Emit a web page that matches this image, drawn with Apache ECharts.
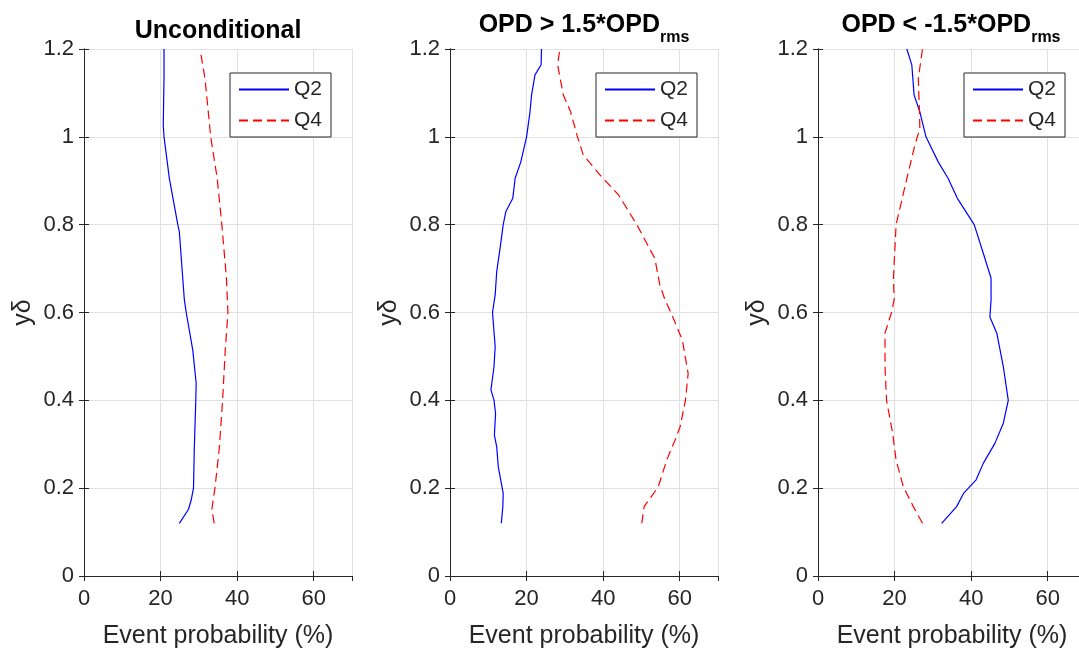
<!DOCTYPE html>
<html>
<head>
<meta charset="utf-8">
<script src="https://cdn.jsdelivr.net/npm/echarts@6/dist/echarts.min.js"></script>
<style>
  body { margin: 0; background: #fff; }
  #chart { width: 1079px; height: 651px; }
</style>
</head>
<body>
<div id="chart"></div>
<script>
// [x (%), y/delta] pairs, bottom to top
const uncondQ2 = [[24.9,0.12],[27.3,0.152],[28.0,0.173],[28.6,0.2],[28.8,0.287],[29.2,0.4],[29.3,0.439],[28.4,0.515],[26.7,0.6],[26.2,0.63],[24.9,0.784],[24.5,0.8],[22.3,0.905],[20.9,1.0],[20.7,1.027],[20.9,1.133],[20.9,1.2]];
const uncondQ4 = [[34.0,0.12],[33.4,0.152],[34.2,0.2],[35.3,0.287],[36.2,0.4],[36.9,0.515],[37.6,0.6],[37.2,0.678],[36.0,0.8],[34.8,0.905],[33.1,1.0],[31.6,1.133],[30.5,1.19]];
const posQ2 = [[13.4,0.12],[13.8,0.158],[13.9,0.188],[12.6,0.249],[12.2,0.294],[11.6,0.321],[11.9,0.37],[11.5,0.4],[10.7,0.424],[11.5,0.477],[11.8,0.522],[11.1,0.6],[11.8,0.64],[12.2,0.693],[13.2,0.754],[13.9,0.8],[14.6,0.83],[16.4,0.86],[17.0,0.905],[18.5,0.943],[20.0,1.0],[20.9,1.057],[21.3,1.095],[22.2,1.141],[23.8,1.164],[23.9,1.2]];
const posQ4 = [[50.1,0.12],[50.7,0.158],[54.4,0.203],[56.6,0.264],[58.8,0.31],[60.1,0.34],[61.5,0.4],[62.2,0.461],[60.7,0.537],[57.7,0.6],[56.2,0.628],[54.8,0.663],[53.5,0.723],[48.8,0.8],[44.0,0.868],[39.2,0.913],[34.8,0.959],[33.3,1.0],[31.5,1.057],[29.6,1.095],[28.1,1.164],[28.7,1.2]];
const negQ2 = [[32.3,0.12],[36.2,0.158],[38.0,0.188],[41.3,0.219],[43.2,0.257],[46.2,0.302],[48.4,0.348],[49.7,0.4],[48.4,0.477],[46.7,0.553],[44.9,0.59],[45.2,0.628],[45.2,0.678],[43.6,0.723],[40.8,0.8],[36.4,0.86],[34.0,0.905],[31.4,0.943],[28.2,1.0],[26.6,1.057],[25.1,1.095],[24.5,1.164],[23.2,1.2]];
const negQ4 = [[27.3,0.12],[24.9,0.158],[22.3,0.203],[20.4,0.264],[19.5,0.325],[17.9,0.4],[17.5,0.477],[17.5,0.553],[19.2,0.6],[19.9,0.63],[19.7,0.678],[20.4,0.8],[23.2,0.905],[25.3,0.981],[26.6,1.019],[26.5,1.057],[26.2,1.133],[27.3,1.2]];

const seriesNames = ["Q2", "Q4"];
const panelData = [[uncondQ2, uncondQ4], [posQ2, posQ4], [negQ2, negQ4]];
const panelLeft = [84, 450, 818];

const font = "Liberation Sans, Arial, Helvetica, sans-serif";
const ink = "#262626";

let grid = [], xAxis = [], yAxis = [], series = [], legend = [];

panelLeft.forEach((left, i) => {
  // fixed box; the third panel runs past the right edge like the original
  grid.push({ left: left, top: 49, width: 268, height: 527, outerBoundsMode: "none", containLabel: false });
  // bottom x axis
  xAxis.push({
    gridIndex: i, type: "value", min: 0, max: 70, interval: 20,
    name: "Event probability (%)", nameLocation: "middle", nameGap: 48,
    nameTextStyle: { fontFamily: font, fontSize: 25, color: ink },
    axisLine: { show: true, lineStyle: { color: ink, width: 1 } },
    axisTick: { show: true, inside: true, length: 5, lineStyle: { color: ink } },
    axisLabel: { fontFamily: font, fontSize: 22, color: ink, margin: 12, showMaxLabel: false },
    splitLine: { show: true, lineStyle: { color: "#e0e0e0", width: 1 } }
  });
  // top x axis (box edge)
  xAxis.push({
    gridIndex: i, type: "value", min: 0, max: 70, interval: 20, position: "top",
    axisLine: { show: true, lineStyle: { color: ink, width: 1 } },
    axisTick: { show: true, inside: true, length: 5, lineStyle: { color: ink } },
    axisLabel: { show: false }, splitLine: { show: false }
  });
  yAxis.push({
    gridIndex: i, type: "value", min: 0, max: 1.2, interval: 0.2,
    name: "y\u03b4", nameLocation: "middle", nameGap: 48,
    nameTextStyle: { fontFamily: font, fontSize: 25, color: ink },
    axisLine: { show: true, lineStyle: { color: ink, width: 1 } },
    axisTick: { show: true, inside: true, length: 5, lineStyle: { color: ink } },
    axisLabel: { fontFamily: font, fontSize: 22, color: ink, margin: 10 },
    splitLine: { show: true, lineStyle: { color: "#e0e0e0", width: 1 } }
  });
  yAxis.push({
    gridIndex: i, type: "value", min: 0, max: 1.2, interval: 0.2, position: "right",
    axisLine: { show: true, lineStyle: { color: ink, width: 1 } },
    axisTick: { show: true, inside: true, length: 5, lineStyle: { color: ink } },
    axisLabel: { show: false }, splitLine: { show: false }
  });
  series.push({
    name: seriesNames[0], type: "line", xAxisIndex: i * 2, yAxisIndex: i * 2,
    data: panelData[i][0], symbol: "none", color: "#0000ff",
    lineStyle: { color: "#0000ff", width: 1.2 }, animation: false
  });
  series.push({
    name: seriesNames[1], type: "line", xAxisIndex: i * 2, yAxisIndex: i * 2,
    data: panelData[i][1], symbol: "none", color: "#ff0000",
    lineStyle: { color: "#ff0000", width: 1.2, type: [9, 5] }, animation: false
  });
  legend.push({
    data: seriesNames, orient: "vertical", left: left + 146, top: 73,
    itemWidth: 50, itemHeight: 14, itemGap: 10, padding: [6, 9, 6, 8],
    backgroundColor: "#fff", borderColor: ink, borderWidth: 1, borderRadius: 0,
    selectedMode: false,
    itemStyle: { opacity: 0 },
    textStyle: { fontFamily: font, fontSize: 21, color: ink }
  });
});

const titleMain = { fontFamily: font, fontSize: 25, fontWeight: "bold", color: "#000", lineHeight: 24, verticalAlign: "top" };
const titleSub = { fontFamily: font, fontSize: 16, fontWeight: "bold", color: "#000", lineHeight: 50 };

let option = {
  backgroundColor: "#fff",
  animation: false,
  title: [
    { text: "Unconditional", left: 218, top: 19, textAlign: "center", padding: 0,
      textStyle: titleMain },
    { text: "{m|OPD > 1.5*OPD}{s|rms}", left: 584, top: 13, textAlign: "center", padding: 0,
      textStyle: { rich: { m: titleMain, s: titleSub } } },
    { text: "{m|OPD < -1.5*OPD}{s|rms}", left: 951, top: 13, textAlign: "center", padding: 0,
      textStyle: { rich: { m: titleMain, s: titleSub } } }
  ],
  legend: legend,
  grid: grid,
  xAxis: xAxis,
  yAxis: yAxis,
  series: series
};

let myChart = echarts.init(document.getElementById("chart"));
myChart.setOption(option, true);
</script>
</body>
</html>
